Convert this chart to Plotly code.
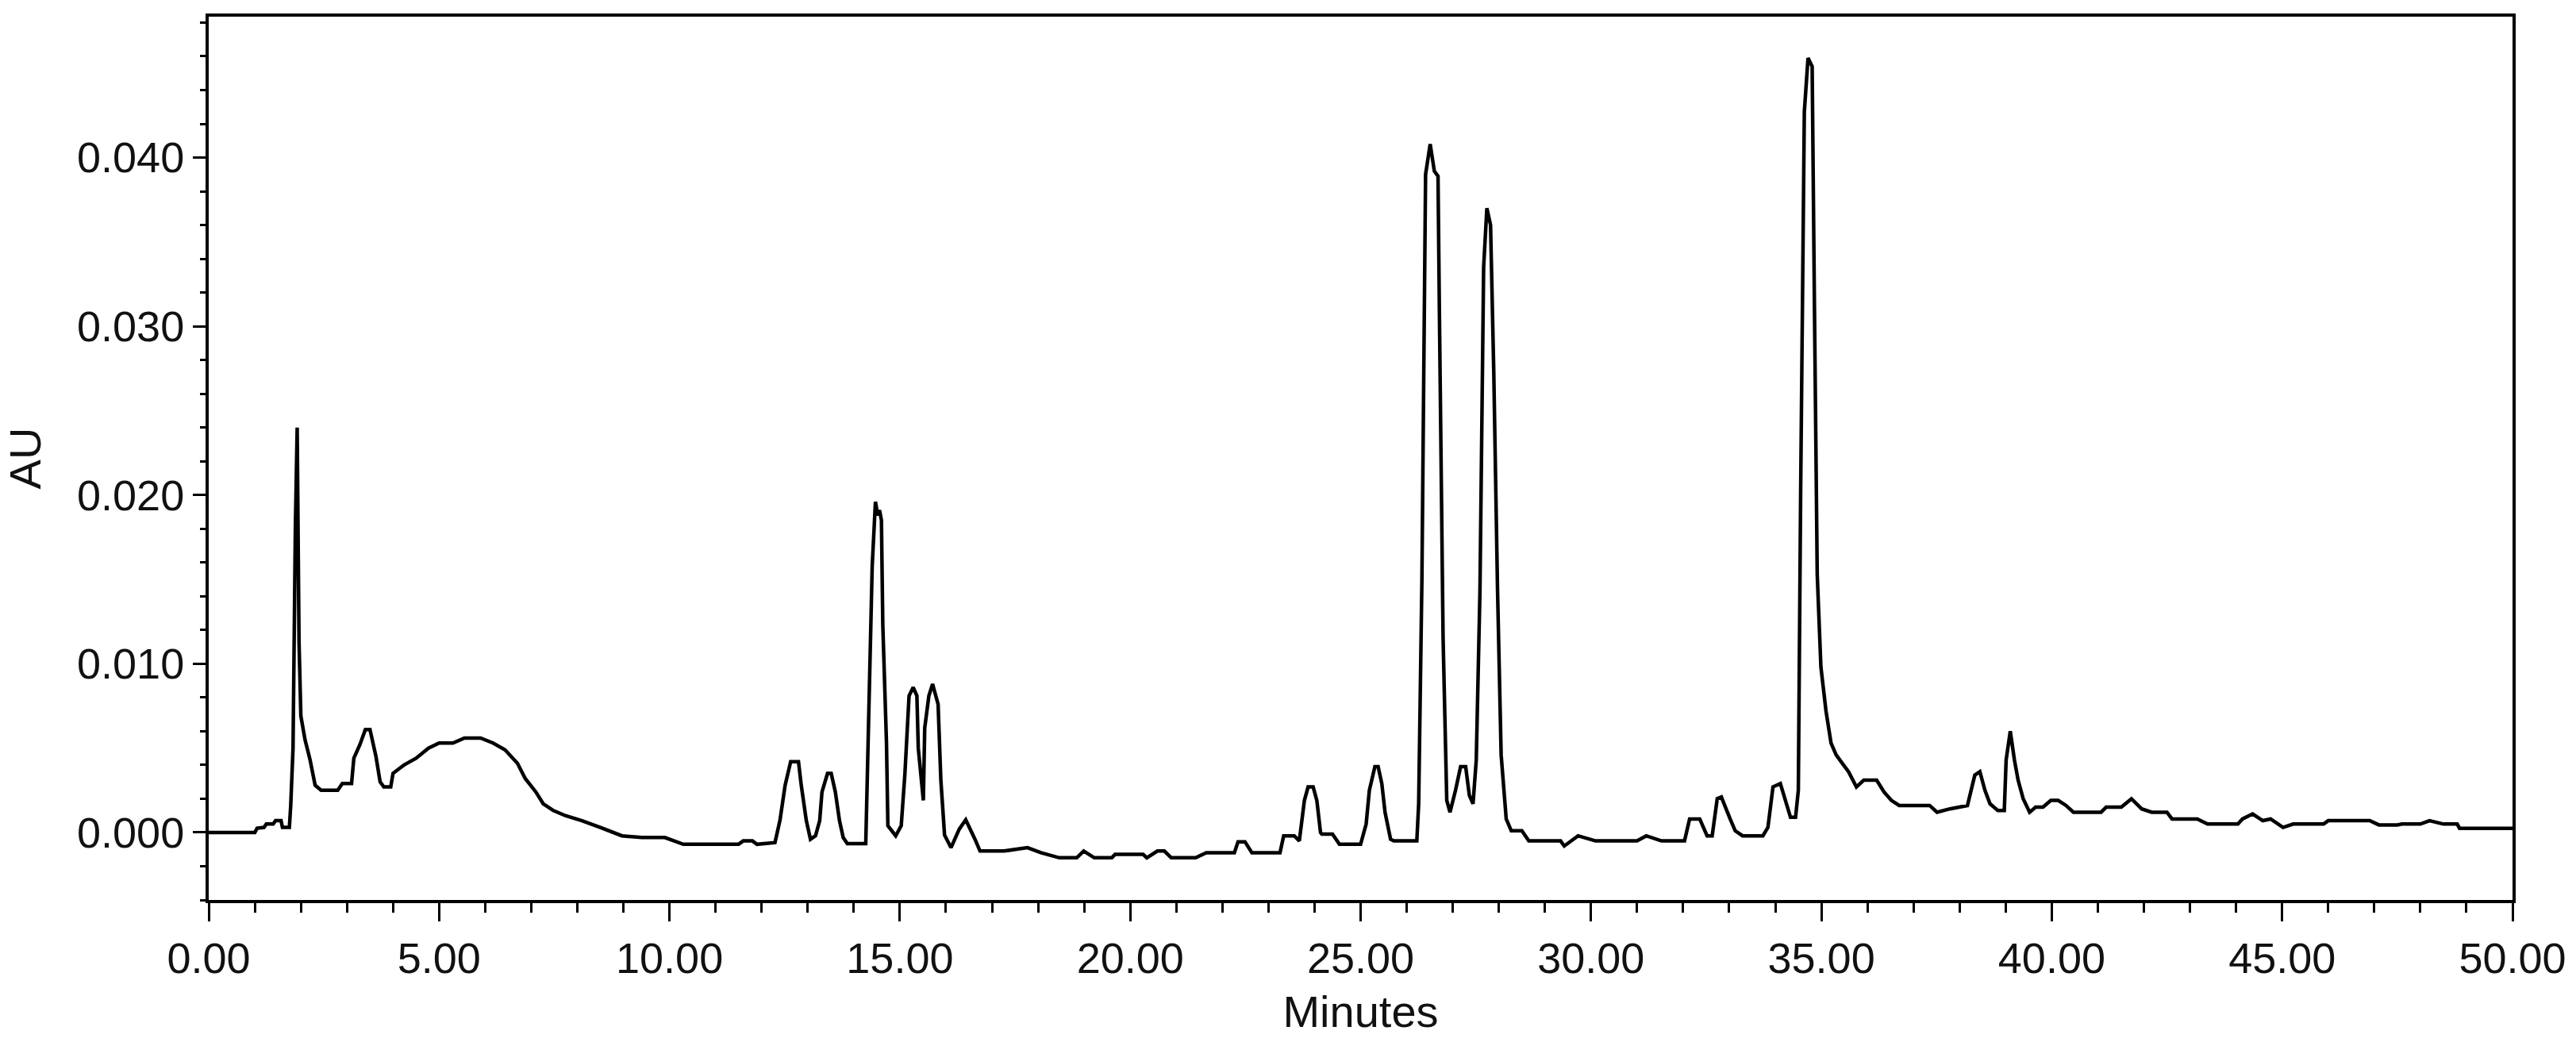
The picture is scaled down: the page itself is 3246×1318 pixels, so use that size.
import plotly.graph_objects as go

# retention time (min) and absorbance (AU)
minutes = [
    0.0, 0.5, 1.0, 1.05, 1.2, 1.25, 1.4, 1.45, 1.57, 1.6, 1.75, 1.78, 1.83, 1.88, 1.92,
    1.96, 2.0, 2.09, 2.2, 2.31, 2.44, 2.8, 2.9, 3.1, 3.15, 3.28, 3.4, 3.5, 3.63, 3.72,
    3.8, 3.95, 4.0, 4.24, 4.5, 4.77, 5.0, 5.3, 5.55, 5.9, 6.17, 6.43, 6.7, 6.87, 7.1,
    7.26, 7.48, 7.74, 8.1, 8.5, 8.97, 9.4, 9.9, 10.3, 11.5, 11.6, 11.8, 11.9, 12.29,
    12.4, 12.51, 12.63, 12.8, 12.86, 12.97, 13.06, 13.17, 13.26, 13.31, 13.43, 13.51,
    13.6, 13.69, 13.77, 13.86, 14.26, 14.31, 14.4, 14.47, 14.52, 14.56, 14.6, 14.63,
    14.71, 14.74, 14.91, 15.03, 15.11, 15.2, 15.29, 15.37, 15.4, 15.51, 15.54, 15.63,
    15.71, 15.83, 15.89, 15.97, 16.11, 16.29, 16.43, 16.63, 16.74, 17.26, 17.77, 18.06,
    18.46, 18.84, 18.99, 19.22, 19.6, 19.67, 20.28, 20.36, 20.59, 20.74, 20.89, 21.42,
    21.65, 22.26, 22.34, 22.49, 22.64, 23.25, 23.33, 23.56, 23.67, 23.78, 23.86, 23.97,
    24.05, 24.13, 24.16, 24.39, 24.54, 25.0, 25.12, 25.19, 25.31, 25.38, 25.46, 25.53,
    25.65, 25.72, 26.22, 26.26, 26.33, 26.41, 26.51, 26.6, 26.68, 26.71, 26.79, 26.87,
    26.94, 27.06, 27.17, 27.28, 27.36, 27.44, 27.51, 27.59, 27.67, 27.74, 27.82, 27.89,
    27.97, 28.05, 28.16, 28.27, 28.5, 28.65, 29.34, 29.42, 29.72, 30.1, 31.0, 31.2,
    31.53, 32.03, 32.14, 32.36, 32.52, 32.63, 32.74, 32.83, 33.02, 33.13, 33.29, 33.73,
    33.84, 33.95, 34.11, 34.22, 34.33, 34.44, 34.5, 34.55, 34.63, 34.71, 34.8, 34.85,
    34.91, 34.99, 35.1, 35.21, 35.32, 35.48, 35.59, 35.76, 35.92, 36.2, 36.36, 36.52,
    36.69, 37.35, 37.51, 37.79, 38.17, 38.33, 38.44, 38.55, 38.66, 38.83, 38.97, 39.01,
    39.1, 39.19, 39.27, 39.38, 39.52, 39.65, 39.81, 39.98, 40.14, 40.31, 40.47, 41.07,
    41.18, 41.51, 41.73, 41.95, 42.17, 42.5, 42.61, 43.16, 43.38, 44.04, 44.14, 44.36,
    44.58, 44.75, 45.02, 45.24, 45.9, 46.0, 46.9, 47.1, 47.5, 47.6, 48.0, 48.2, 48.5,
    48.8, 48.85, 50.0,
]
au = [
    0.0, 0.0, 0.0, 0.00025, 0.0003, 0.0005, 0.0005, 0.0007, 0.0007, 0.0003, 0.0003,
    0.0016, 0.005, 0.018, 0.024,
    0.0113, 0.0069, 0.0055, 0.0043, 0.0028, 0.0025, 0.0025, 0.0029, 0.0029, 0.0044,
    0.0052, 0.0061, 0.0061, 0.0045, 0.003,
    0.0027, 0.0027, 0.0035, 0.004, 0.0044, 0.005, 0.0053, 0.0053, 0.0056, 0.0056,
    0.0053, 0.0049, 0.0041, 0.0032, 0.0024,
    0.0017, 0.0013, 0.001, 0.0007, 0.0003, -0.0002, -0.0003, -0.0003, -0.0007, -0.0007,
    -0.0005, -0.0005, -0.0007, -0.0006,
    0.00075, 0.0028, 0.0042, 0.0042, 0.0028, 0.0007, -0.0004, -0.0002, 0.0007, 0.0024,
    0.0035, 0.0035,
    0.0024, 0.0007, -0.0003, -0.00066, -0.00066, 0.0052, 0.0158, 0.0196, 0.0188, 0.0191,
    0.0185, 0.0123,
    0.0053, 0.0004, -0.0002, 0.0004, 0.0035, 0.0081, 0.0086, 0.0081, 0.005, 0.0019,
    0.0062, 0.0081,
    0.0088, 0.0076, 0.0031, -0.00015, -0.0009, 0.0002, 0.00075, -0.0004, -0.0011,
    -0.0011, -0.0009, -0.0012,
    -0.0015, -0.0015, -0.0011, -0.0015, -0.0015, -0.0013, -0.0013, -0.0015, -0.0011,
    -0.0011, -0.0015, -0.0015,
    -0.0012, -0.0012, -0.00055, -0.00055, -0.0012, -0.0012, -0.0002, -0.0002, -0.0005,
    0.0019, 0.0027, 0.0027,
    0.0019, 0.0, -0.0001, -0.0001, -0.0007, -0.0007, 0.0005, 0.0025, 0.0039, 0.0039,
    0.0029, 0.0012,
    -0.0004, -0.0005, -0.0005, 0.0017, 0.0149, 0.039, 0.0408, 0.0392, 0.0389, 0.0308,
    0.0115, 0.0019,
    0.0012, 0.0025, 0.0039, 0.0039, 0.0022, 0.0017, 0.0043, 0.0143, 0.0335, 0.037,
    0.036, 0.0273,
    0.0146, 0.0046, 0.0008, 0.0001, 0.0001, -0.0005, -0.0005, -0.0008, -0.0002, -0.0005,
    -0.0005, -0.0002,
    -0.0005, -0.0005, 0.0008, 0.0008, -0.0002, -0.0002, 0.002, 0.0021, 0.0008, 0.0001,
    -0.0002, -0.0002,
    0.0003, 0.0027, 0.0029, 0.0019, 0.0009, 0.0009, 0.0025, 0.0201, 0.0427, 0.0459,
    0.0454, 0.0311,
    0.0153, 0.0098, 0.0072, 0.0053, 0.0046, 0.004, 0.0036, 0.0027, 0.0031, 0.0031,
    0.0024, 0.0019,
    0.0016, 0.0016, 0.0012, 0.0014, 0.0016, 0.0034, 0.0036, 0.0025, 0.0017, 0.0013,
    0.0013, 0.0043,
    0.006, 0.0043, 0.0031, 0.002, 0.0012, 0.0015, 0.0015, 0.0019, 0.0019, 0.0016,
    0.0012, 0.0012,
    0.0015, 0.0015, 0.002, 0.0014, 0.0012, 0.0012, 0.0008, 0.0008, 0.0005, 0.0005,
    0.0008, 0.0011,
    0.0007, 0.0008, 0.0003, 0.0005, 0.0005, 0.0007, 0.0007, 0.00045, 0.00045, 0.0005,
    0.0005, 0.0007, 0.0005,
    0.0005, 0.00025, 0.00025,
]

x_ticks = [0, 5, 10, 15, 20, 25, 30, 35, 40, 45, 50]
y_ticks = [0.0, 0.01, 0.02, 0.03, 0.04]

font = dict(family='Arial, Liberation Sans, sans-serif', size=54, color='#111111')
title_font = dict(family='Arial, Liberation Sans, sans-serif', size=56, color='#111111')

fig = go.Figure(
    go.Scatter(
        x=minutes,
        y=au,
        mode='lines',
        line=dict(color='black', width=4.5, simplify=False),
        hoverinfo='skip',
    )
)

fig.update_layout(
    width=3246,
    height=1318,
    margin=dict(l=263, r=68, t=21, b=184),
    paper_bgcolor='white',
    plot_bgcolor='white',
    showlegend=False,
    font=font,
)

fig.update_xaxes(
    range=[0, 50],
    tickvals=x_ticks,
    tickformat='.2f',
    ticks='outside',
    ticklen=23,
    tickwidth=3,
    tickcolor='black',
    minor=dict(dtick=1, tick0=0, ticks='outside', ticklen=12, tickwidth=3, tickcolor='black'),
    showline=True,
    linewidth=4,
    linecolor='black',
    mirror=True,
    showgrid=False,
    zeroline=False,
    title=dict(text='Minutes', standoff=20, font=title_font),
)

fig.update_yaxes(
    range=[-0.0040, 0.04835],
    tickvals=y_ticks,
    tickformat='.3f',
    ticks='outside',
    ticklen=16,
    tickwidth=3,
    tickcolor='black',
    minor=dict(dtick=0.002, tick0=0, ticks='outside', ticklen=7, tickwidth=3, tickcolor='black'),
    showline=True,
    linewidth=4,
    linecolor='black',
    mirror=True,
    showgrid=False,
    zeroline=False,
    title=dict(text='AU', standoff=30, font=title_font),
)

fig.write_html(
    'out.html',
    config={'displayModeBar': False},
    post_script="document.body.style.margin='0';",
)
